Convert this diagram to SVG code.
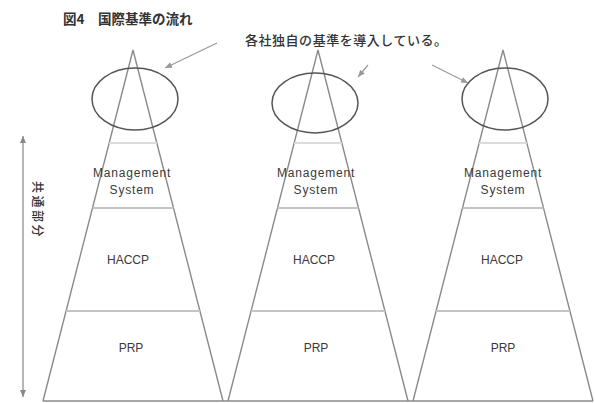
<svg xmlns="http://www.w3.org/2000/svg" width="595" height="403" viewBox="0 0 595 403">
<style>
.side{stroke:#8a8a8a;stroke-width:1.4;fill:none}
.div{stroke:#c4c4c4;stroke-width:2.2;fill:none}
.divl{stroke:#dcdcdc;stroke-width:1.8;fill:none}
.ell{stroke:#555;stroke-width:1.5;fill:none}
.lbl{font-family:"Liberation Sans",Arial,sans-serif;font-size:12px;fill:#3a3a3a;text-anchor:middle}
.ms{letter-spacing:0.8px}
.jp{font-family:"Noto Sans CJK JP","Noto Sans CJK SC",sans-serif;fill:#333}
.arr{stroke:#999;stroke-width:1.2;fill:none}
</style>
<defs>
<marker id="ah" markerWidth="8" markerHeight="8" refX="7" refY="4" orient="auto" markerUnits="userSpaceOnUse">
<path d="M0,1 L7,4 L0,7 Z" fill="#999"/>
</marker>
<marker id="ah2" markerWidth="8" markerHeight="8" refX="7" refY="4" orient="auto-start-reverse" markerUnits="userSpaceOnUse">
<path d="M0,1 L7,4 L0,7 Z" fill="#888"/>
</marker>
</defs>
<rect width="595" height="403" fill="#fff"/>
<text x="63" y="24" class="jp" font-size="13.5" font-weight="bold">図4　国際基準の流れ</text>
<text x="245" y="45" class="jp" font-size="13" font-weight="500" textLength="202" lengthAdjust="spacing">各社独自の基準を導入している。</text>
<g id="common">
<line x1="23" y1="136" x2="23" y2="397" stroke="#888" stroke-width="1.2" marker-start="url(#ah2)" marker-end="url(#ah2)"/>
<text transform="translate(33,181) rotate(90)" class="jp" font-size="12" font-weight="500" letter-spacing="2.5">共通部分</text>
</g>
<line x1="43" y1="401" x2="593" y2="401" class="side"/>
<g id="pyramid1">
<path class="side" d="M43,401 L133,50 L223,401"/>
<line class="divl" x1="109.2" y1="143" x2="156.8" y2="143"/>
<line class="div" x1="92.5" y1="208" x2="173.5" y2="208"/>
<line class="div" x1="66.1" y1="311" x2="199.9" y2="311"/>
<ellipse class="ell" cx="135" cy="99" rx="43" ry="31"/>
<text class="lbl ms" x="132" y="177">Management</text>
<text class="lbl ms" x="132" y="194">System</text>
<text class="lbl" x="128" y="264">HACCP</text>
<text class="lbl" x="131" y="352">PRP</text>
</g>
<g id="pyramid2">
<path class="side" d="M228,401 L318,50 L408,401"/>
<line class="divl" x1="294.2" y1="143" x2="341.8" y2="143"/>
<line class="div" x1="277.5" y1="208" x2="358.5" y2="208"/>
<line class="div" x1="251.1" y1="311" x2="384.9" y2="311"/>
<ellipse class="ell" cx="315" cy="103" rx="43" ry="30"/>
<text class="lbl ms" x="316" y="177">Management</text>
<text class="lbl ms" x="316" y="194">System</text>
<text class="lbl" x="314" y="264">HACCP</text>
<text class="lbl" x="316" y="352">PRP</text>
</g>
<g id="pyramid3">
<path class="side" d="M413,401 L503,50 L593,401"/>
<line class="divl" x1="479.2" y1="143" x2="526.8" y2="143"/>
<line class="div" x1="462.5" y1="208" x2="543.5" y2="208"/>
<line class="div" x1="436.1" y1="311" x2="569.9" y2="311"/>
<ellipse class="ell" cx="505" cy="99" rx="43" ry="31"/>
<text class="lbl ms" x="503" y="177">Management</text>
<text class="lbl ms" x="503" y="194">System</text>
<text class="lbl" x="502" y="264">HACCP</text>
<text class="lbl" x="503" y="352">PRP</text>
</g>
<g id="connectors">
<line class="arr" x1="217" y1="43" x2="165" y2="68" marker-end="url(#ah)"/>
<line class="arr" x1="368" y1="65" x2="358" y2="77" marker-end="url(#ah)"/>
<line class="arr" x1="432" y1="65" x2="468" y2="83" marker-end="url(#ah)"/>
</g>
</svg>
